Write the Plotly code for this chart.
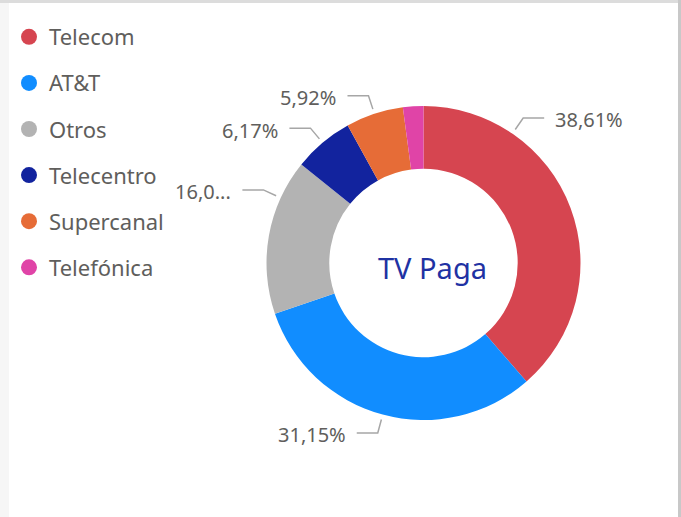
import math
import plotly.graph_objects as go

# ---- data ----
companies = ["Telecom", "AT&T", "Otros", "Telecentro", "Supercanal", "Telefónica"]
shares = [38.61, 31.15, 16.05, 6.17, 5.92, 2.10]
colors = ["#D64550", "#118DFF", "#B3B3B3", "#12239E", "#E66C37", "#E044A7"]
center_title = "TV Paga"

# ---- styling / layout ----
W, H = 681, 517
CX, CY, R = 423.5, 263.0, 157.0     # donut centre / radius in pixels
HOLE = 0.6
FONT = "Segoe UI, Noto Sans, DejaVu Sans, sans-serif"
TXT = "#605E5C"
LINE = "#A6A6A6"
show_label = [True, True, True, True, True, False]
truncate_label = [False, False, True, False, False, False]
label_angle_shift = [-35.0, 0.0, 14.5, 0.0, 0.0, 0.0]  # degrees, label anchor shift from slice middle

def px(x):
    return x / W

def py(y):
    return 1 - y / H

fig = go.Figure()
fig.add_trace(go.Pie(
    labels=companies, values=shares, marker=dict(colors=colors, line=dict(width=0)),
    hole=HOLE, sort=False, direction="clockwise", rotation=0,
    textinfo="none", showlegend=False,
    domain=dict(x=[px(CX - R), px(CX + R)], y=[py(CY + R), py(CY - R)]),
))

# legend entries (one per company, spaced like the original)
for name, col in zip(companies, colors):
    fig.add_trace(go.Scatter(x=[None], y=[None], mode="markers", name=name,
                             legendgroup=name,
                             marker=dict(color=col, size=16, symbol="circle")))

shapes = []
annotations = []
total = sum(shares)
cum = 0.0
for i, v in enumerate(shares):
    mid = (cum + v / 2) / total * 360.0
    cum += v
    if not show_label[i]:
        continue
    a = math.radians(mid + label_angle_shift[i])
    sx, sy = CX + 162 * math.sin(a), CY - 162 * math.cos(a)
    ex, ey = CX + 176 * math.sin(a), CY - 176 * math.cos(a)
    right = math.sin(a) >= 0
    hx = ex + (21 if right else -21)
    path = f"M {px(sx)} {py(sy)} L {px(ex)} {py(ey)} L {px(hx)} {py(ey)}"
    shapes.append(dict(type="path", xref="paper", yref="paper", path=path,
                       line=dict(color=LINE, width=1.5)))
    txt = f"{v:.2f}".replace(".", ",") + "%"
    if truncate_label[i]:
        txt = txt[:4] + "..."
    annotations.append(dict(x=px(hx + (9 if right else -9)), y=py(ey + 2), xref="paper", yref="paper",
                            text=txt, showarrow=False,
                            xanchor="left" if right else "right", yanchor="middle",
                            font=dict(family=FONT, size=20, color=TXT)))

annotations.append(dict(x=px(432), y=py(267), xref="paper", yref="paper", text=center_title,
                        showarrow=False, xanchor="center", yanchor="middle",
                        font=dict(family=FONT, size=29, color="#1F32A3")))

# card frame
shapes += [
    dict(type="rect", xref="paper", yref="paper", x0=0, x1=px(9), y0=0, y1=1,
         fillcolor="#F6F6F6", line=dict(width=0), layer="below"),
    dict(type="rect", xref="paper", yref="paper", x0=0, x1=1, y0=py(3), y1=1,
         fillcolor="#DCDCDC", line=dict(width=0), layer="below"),
    dict(type="rect", xref="paper", yref="paper", x0=px(678), x1=1, y0=0, y1=1,
         fillcolor="#C8C8C8", line=dict(width=0), layer="below"),
]

fig.update_layout(
    width=W, height=H, autosize=False,
    margin=dict(l=0, r=0, t=0, b=0),
    paper_bgcolor="white", plot_bgcolor="white",
    xaxis=dict(visible=False), yaxis=dict(visible=False),
    showlegend=True,
    legend=dict(x=px(9), y=py(16), xanchor="left", yanchor="top",
                font=dict(family=FONT, size=22, color=TXT),
                tracegroupgap=14.5, itemsizing="trace", itemwidth=30,
                bgcolor="rgba(0,0,0,0)"),
    shapes=shapes, annotations=annotations,
)

fig.write_html("out.html", config={"displayModeBar": False},
               post_script="document.body.style.margin='0px';")
